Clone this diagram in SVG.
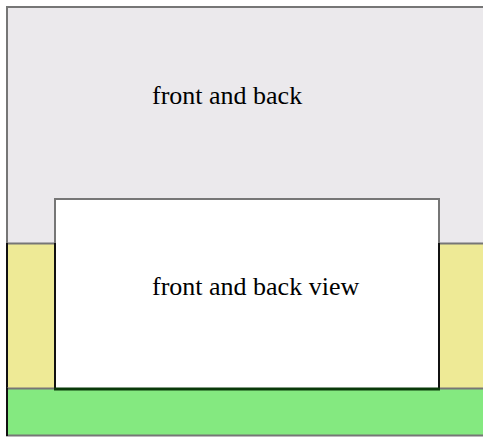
<svg xmlns="http://www.w3.org/2000/svg" width="483" height="437" viewBox="0 0 483 437">
<style>
.lbl{font-family:"Liberation Serif","Times New Roman",serif;font-size:26px;fill:#000}
.g{stroke:#767676;stroke-width:2;fill:none}
.k{stroke:#111;stroke-width:2;fill:none}
</style>
<rect width="483" height="437" fill="#ffffff"/>
<g id="front-back">
<rect x="7" y="7" width="480" height="236" fill="#ebe9ec"/>
<line class="g" x1="6" y1="7" x2="483" y2="7"/>
<line class="g" x1="7" y1="6" x2="7" y2="243"/>
<text class="lbl" x="152" y="104">front and back</text>
</g>
<g id="yellow-band">
<rect x="7" y="243" width="480" height="145" fill="#eeea96"/>
<line class="g" x1="7" y1="243.5" x2="483" y2="243.5"/>
<line class="k" x1="7" y1="243" x2="7" y2="388"/>
</g>
<g id="green-band">
<rect x="7" y="388" width="480" height="47" fill="#84e980"/>
<line class="g" x1="7" y1="388.5" x2="483" y2="388.5"/>
<line class="g" x1="6" y1="435.5" x2="483" y2="435.5"/>
<line class="k" x1="7" y1="388" x2="7" y2="436"/>
</g>
<g id="view">
<rect x="55" y="199" width="384" height="189" fill="#ffffff"/>
<polyline class="g" points="55,243 55,199 439,199 439,243"/>
<line class="k" x1="55" y1="243" x2="55" y2="389"/>
<line class="k" x1="439" y1="243" x2="439" y2="389"/>
<line stroke="#0a3a0a" stroke-width="3" x1="54" y1="389" x2="440" y2="389"/>
<text class="lbl" x="152" y="295">front and back view</text>
</g>
<g id="connectors"/>
</svg>
